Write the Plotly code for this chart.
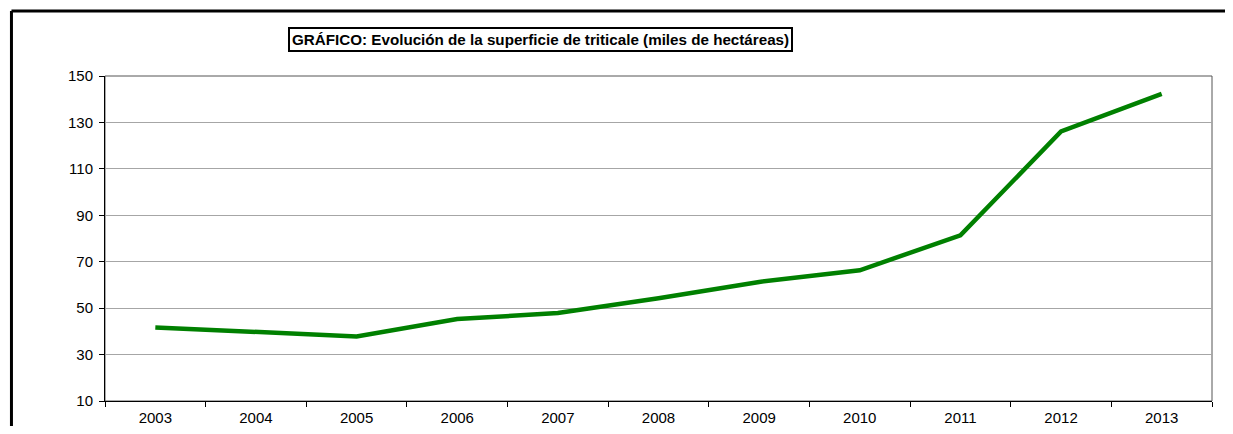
import plotly.graph_objects as go

years = ['2003', '2004', '2005', '2006', '2007', '2008',
         '2009', '2010', '2011', '2012', '2013']
superficie = [41.7, 39.7, 37.8, 45.3, 47.9, 54.3, 61.3, 66.3, 81.4, 126.1, 142.3]

y_ticks = [10, 30, 50, 70, 90, 110, 130, 150]

title_text = 'GRÁFICO: Evolución de la superficie de triticale (miles de hectáreas)'

font_family = 'Liberation Sans, Arial, sans-serif'

fig = go.Figure()

fig.add_trace(go.Scatter(
    x=years,
    y=superficie,
    mode='lines',
    line=dict(color='#008000', width=4.5),
    showlegend=False,
    hoverinfo='x+y'
))

# page body has an 8px margin, so the figure is offset by 8px
fig.update_layout(
    width=1225,
    height=418,
    margin=dict(l=97, r=21, t=68, b=25),
    paper_bgcolor='white',
    plot_bgcolor='white',
    font=dict(family=font_family, size=15, color='black'),
    xaxis=dict(
        type='category',
        range=[-0.5, 10.5],
        automargin=False,
        showgrid=False,
        showline=True,
        linecolor='black',
        linewidth=1,
        ticks='outside',
        tickson='boundaries',
        ticklen=5,
        tickcolor='black',
        tickfont=dict(size=15),
        ticklabelstandoff=3,
        fixedrange=True
    ),
    yaxis=dict(
        range=[10, 150],
        tickvals=y_ticks,
        automargin=False,
        showgrid=True,
        gridcolor='#a6a6a6',
        gridwidth=1,
        showline=True,
        linecolor='black',
        linewidth=1,
        ticks='outside',
        ticklen=5,
        tickcolor='black',
        tickfont=dict(size=15),
        ticklabelstandoff=3,
        zeroline=False,
        fixedrange=True
    ),
    shapes=[
        # plot area frame (top and right edges)
        dict(type='rect', xref='paper', yref='paper', x0=0, x1=1, y0=0, y1=1,
             line=dict(color='#555555', width=1), layer='below'),
        # outer chart border: only top and left edges are inside the window
        dict(type='line', xref='paper', yref='paper', x0=-0.0845, x1=1.05,
             y0=1.2, y1=1.2, line=dict(color='black', width=3)),
        dict(type='line', xref='paper', yref='paper', x0=-0.0845, x1=-0.0845,
             y0=-0.3, y1=1.2, line=dict(color='black', width=3)),
    ],
    annotations=[
        dict(
            text='<b>' + title_text + '</b>',
            xref='paper', yref='paper',
            x=0.393, y=1.111,
            xanchor='center', yanchor='middle',
            showarrow=False,
            font=dict(family=font_family, size=15.2, color='black'),
            bordercolor='black',
            borderwidth=2,
            borderpad=2,
            bgcolor='white'
        )
    ]
)

fig.write_html("out.html")
